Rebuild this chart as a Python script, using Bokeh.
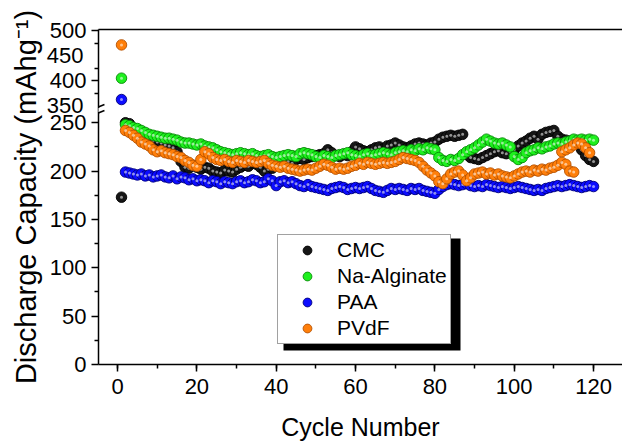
from bokeh.plotting import figure
from bokeh.models import (Range1d, LinearAxis, FixedTicker, SingleIntervalTicker,
                          Legend, LegendItem, BoxAnnotation, Arrow, AllLabels,
                          CustomJSTickFormatter, Label)
from bokeh.embed import file_html
from bokeh.resources import INLINE

# ---------------- data ----------------
cycles = list(range(1, 121))

cmc = [173, 250, 249, 244, 240, 238, 236, 234, 232, 230,
       229, 227, 226, 224, 220, 210, 204, 203, 206, 204,
       202, 204, 203, 200, 199, 198, 201, 200, 199, 202,
       204, 206, 205, 208, 207, 204, 200, 202, 203, 206,
       209, 211, 210, 208, 212, 213, 212, 214, 215, 216,
       217, 218, 222, 219, 216, 215, 217, 216, 220, 225,
       223, 221, 220, 222, 224, 225, 223, 226, 227, 229,
       227, 225, 224, 226, 228, 229, 228, 227, 229, 230,
       233, 235, 236, 237, 236, 237, 238, 217, 214, 213,
       212, 214, 216, 218, 220, 221, 219, 218, 220, 222,
       226, 229, 231, 234, 236, 233, 238, 240, 241, 242,
       236, 233, 232, 231, 229, 228, 222, 216, 212, 210]

na_alginate = [405, 248, 247, 245, 244, 242, 240, 238, 237, 236,
               235, 234, 234, 233, 232, 230, 229, 229, 228, 227,
               228, 226, 225, 224, 222, 220, 219, 218, 217, 218,
               219, 218, 217, 218, 216, 215, 216, 217, 215, 214,
               215, 216, 217, 216, 215, 218, 219, 218, 217, 215,
               214, 216, 215, 214, 216, 217, 218, 219, 217, 216,
               215, 217, 218, 216, 217, 218, 219, 218, 217, 219,
               220, 221, 220, 222, 221, 223, 222, 224, 223, 222,
               214, 211, 210, 212, 211, 213, 217, 220, 222, 224,
               227, 230, 233, 231, 229, 228, 229, 227, 225, 215,
               212, 214, 219, 221, 222, 224, 223, 225, 226, 228,
               229, 228, 230, 231, 233, 232, 233, 232, 233, 232]

paa = [362, 199, 198, 197, 196, 197, 195, 196, 194, 195,
       196, 194, 193, 195, 192, 194, 193, 191, 192, 190,
       191, 190, 188, 190, 189, 187, 189, 188, 187, 189,
       190, 188, 189, 191, 190, 188, 189, 192, 190, 185,
       189, 190, 188, 189, 187, 185, 184, 186, 184, 183,
       182, 181, 180, 182, 183, 184, 183, 181, 182, 183,
       182, 183, 184, 182, 180, 179, 178, 180, 182, 181,
       182, 181, 180, 182, 181, 182, 180, 179, 178, 177,
       181, 184, 186, 187, 186, 185, 186, 187, 185, 184,
       185, 184, 186, 185, 184, 183, 184, 183, 182, 183,
       184, 183, 182, 181, 180, 181, 180, 182, 183, 184,
       185, 184, 185, 186, 185, 184, 183, 184, 185, 184]

pvdf_cycles = list(range(1, 116)) + [112, 113, 114, 115, 116, 117, 118, 119]
pvdf = [472, 242, 240, 237, 234, 230, 228, 226, 222, 220,
        221, 219, 218, 217, 215, 214, 211, 209, 206, 205,
        212, 220, 218, 214, 212, 211, 212, 210, 209, 211,
        210, 209, 211, 210, 209, 210, 211, 208, 206, 205,
        204, 205, 203, 202, 201, 200, 201, 202, 201, 203,
        205, 207, 206, 204, 202, 203, 202, 203, 205, 206,
        208, 207, 209, 208, 207, 208, 209, 208, 209, 210,
        212, 214, 213, 212, 211, 209, 205, 201, 198, 195,
        189, 187, 192, 197, 199, 200, 196, 190, 193, 197,
        198, 199, 197, 198, 196, 197, 195, 194, 193, 195,
        197, 199, 200, 199, 201, 200, 202, 201, 203, 204,
        206, 209, 207, 200, 199,
        220, 222, 224, 227, 229, 228, 224, 219]

series_names = ["CMC", "Na-Alginate", "PAA", "PVdF"]
series_x = [cycles, cycles, cycles, pvdf_cycles]
series_y = [cmc, na_alginate, paa, pvdf]
fill_colors = ["#161616", "#1ef01e", "#0c0cff", "#ff7f0a"]
edge_colors = ["#000000", "#078a07", "#00007a", "#b45000"]

x_ticks_interval = 20
y_low_ticks = [0, 50, 100, 150, 200, 250]
y_up_ticks = [350, 400, 450, 500]

# ---------------- layout constants ----------------
FONT = "Liberation Sans"
TICK_FONT_SIZE = "22px"
FRAME_W, FRAME_H = 524, 335
X0, X1 = -4.8, 127.3
LOW_END = 346.4            # lower scale: 0 at the bottom of the frame
UP0, UP1 = -171.5, 503.0   # upper (compressed) scale
SPLIT = 300                # values above this are drawn on the upper scale
LOW_TOP = 261              # top of the lower axis segment
UP_BOTTOM = 345            # bottom of the upper axis segment
TICK_OUT, LABEL_STANDOFF = 7, 5
LABEL_W = 37               # width of a three-digit tick label

px_low = FRAME_H / LOW_END
px_up = FRAME_H / (UP1 - UP0)
px_per_x = FRAME_W / (X1 - X0)
RATIO = px_up / px_low


def up_to_low(u):
    """position on the lower scale of the pixel row where upper value u sits"""
    return LOW_END - (UP1 - u) * RATIO


def mids(t):
    return [(a + b) / 2 for a, b in zip(t, t[1:])]


# the upper labels are split over two axes so that neighbouring labels never crowd
up_on_inner = y_up_ticks[1::2]   # 400, 500
up_on_outer = y_up_ticks[0::2]   # 350, 450

p = figure(frame_width=FRAME_W, frame_height=FRAME_H,
           min_border_left=98, min_border_right=0, min_border_top=29,
           min_border_bottom=78,
           x_range=Range1d(X0, X1), y_range=Range1d(0, LOW_END),
           output_backend="svg", toolbar_location=None)
p.extra_y_ranges = {"up": Range1d(UP0, UP1)}
p.grid.visible = False
p.outline_line_color = None
p.background_fill_color = "white"
p.border_fill_color = "white"


def style_axis(ax):
    ax.axis_line_width = 1.5
    ax.axis_line_color = "black"
    ax.major_tick_line_width = 1.5
    ax.minor_tick_line_width = 1.5
    ax.major_tick_line_color = "black"
    ax.minor_tick_line_color = "black"
    ax.major_tick_in = 0
    ax.major_tick_out = TICK_OUT
    ax.minor_tick_in = 0
    ax.minor_tick_out = 4
    ax.major_label_text_font = FONT
    ax.major_label_text_font_size = TICK_FONT_SIZE
    ax.major_label_text_color = "black"
    ax.major_label_standoff = LABEL_STANDOFF
    ax.major_label_policy = AllLabels()


# inner y axis: lower ticks and half of the upper ticks, labelled through the break mapping
ay = p.yaxis[0]
style_axis(ay)
ay.ticker = FixedTicker(ticks=y_low_ticks + [up_to_low(u) for u in up_on_inner],
                        minor_ticks=mids(y_low_ticks) + [up_to_low(u) for u in mids(y_up_ticks)])
ay.formatter = CustomJSTickFormatter(
    args=dict(split=LOW_TOP, low_end=LOW_END, up1=UP1, ratio=RATIO),
    code="""
    if (tick > split) { return String(Math.round(up1 - (low_end - tick) / ratio)); }
    return String(Math.round(tick));
    """)
ay.bounds = (0, LOW_END)

# outer axis on the upper scale: the other upper labels (pulled back under the inner
# axis labels) and the y title, centred on the whole frame
aup = LinearAxis(y_range_name="up", ticker=FixedTicker(ticks=up_on_outer),
                 axis_line_color=None, major_tick_line_color=None,
                 minor_tick_line_color=None, major_tick_out=0, major_tick_in=0,
                 minor_tick_out=0, minor_tick_in=0,
                 major_label_text_font=FONT, major_label_text_font_size=TICK_FONT_SIZE,
                 major_label_text_color="black", major_label_policy=AllLabels(),
                 major_label_standoff=-LABEL_W,
                 axis_label="Discharge Capacity (mAhg\u207b\u00b9)",
                 axis_label_text_font=FONT, axis_label_text_font_size="29px",
                 axis_label_text_font_style="normal", axis_label_text_color="black",
                 axis_label_standoff=2)
p.add_layout(aup, "left")

# tick marks for the labels carried by the outer axis, plus a text fallback for them
for u in up_on_outer:
    yy = up_to_low(u)
    p.add_layout(Arrow(start=None, end=None, x_start=X0, y_start=yy,
                       x_end=X0 - TICK_OUT / px_per_x, y_end=yy,
                       line_width=1.5, line_color="black"))
    p.add_layout(Label(x=X0, y=yy, text=str(u),
                       x_offset=-(TICK_OUT + LABEL_STANDOFF),
                       text_align="right", text_baseline="middle",
                       text_font=FONT, text_font_size=TICK_FONT_SIZE,
                       text_color="black", level="overlay"))

# x axis
ax = p.xaxis[0]
style_axis(ax)
ax.major_label_standoff = 7
ax.ticker = SingleIntervalTicker(interval=x_ticks_interval, num_minor_ticks=2)
ax.axis_label = "Cycle Number"
ax.axis_label_text_font = FONT
ax.axis_label_text_font_size = "25px"
ax.axis_label_text_font_style = "normal"
ax.axis_label_text_color = "black"
ax.axis_label_standoff = 16

# top border line
atop = LinearAxis(ticker=FixedTicker(ticks=[]), axis_line_width=1.5,
                  axis_line_color="black", major_label_text_font_size="0px")
p.add_layout(atop, "above")

# gap in the y axis line, with the two break marks
p.add_layout(Arrow(start=None, end=None, x_start=X0, y_start=LOW_TOP,
                   x_end=X0, y_end=up_to_low(UP_BOTTOM),
                   line_width=4, line_color="white"))
for ys, ye in [(263.7, 268.9), (257.5, 262.7)]:
    p.add_layout(Arrow(start=None, end=None, x_start=-6.3, y_start=ys,
                       x_end=-3.3, y_end=ye, line_width=1.5, line_color="black"))

# ---------------- data marks ----------------
items = []
for name, xs, ys, fc, ec in zip(series_names, series_x, series_y, fill_colors, edge_colors):
    lx = [x for x, y in zip(xs, ys) if y < SPLIT]
    ly = [y for y in ys if y < SPLIT]
    ux = [x for x, y in zip(xs, ys) if y >= SPLIT]
    uy = [y for y in ys if y >= SPLIT]
    rb = p.scatter(lx, ly, size=10.5, fill_color=fc, line_color=ec, line_width=0.9)
    p.scatter(lx, ly, size=3, fill_color="white", fill_alpha=0.55, line_color=None)
    if ux:
        p.scatter(ux, uy, size=10.5, fill_color=fc, line_color=ec, line_width=0.9,
                  y_range_name="up")
        p.scatter(ux, uy, size=3, fill_color="white", fill_alpha=0.55,
                  line_color=None, y_range_name="up")
    items.append(LegendItem(label=name, renderers=[rb]))

# ---------------- legend with drop shadow ----------------
LEG_X, LEG_Y = 179, 20          # screen offset from frame bottom-left
LEG_W, LEG_H, SHADOW = 177, 112, 6
shadow = BoxAnnotation(left=X0 + (LEG_X + SHADOW) / px_per_x,
                       right=X0 + (LEG_X + LEG_W + SHADOW) / px_per_x,
                       bottom=(LEG_Y - SHADOW) / px_low,
                       top=(LEG_Y + LEG_H - SHADOW) / px_low,
                       fill_color="black", fill_alpha=1.0, line_color=None)
p.add_layout(shadow)

legend = Legend(items=items, location=(LEG_X, LEG_Y), padding=3, margin=0,
                glyph_width=52, glyph_height=22, label_standoff=4, spacing=2,
                label_text_font=FONT, label_text_font_size="21px",
                label_text_color="black",
                border_line_color="#444444", border_line_width=1.5,
                background_fill_color="white", background_fill_alpha=1.0)
p.add_layout(legend)

open("out.html", "w").write(file_html(p, INLINE))
